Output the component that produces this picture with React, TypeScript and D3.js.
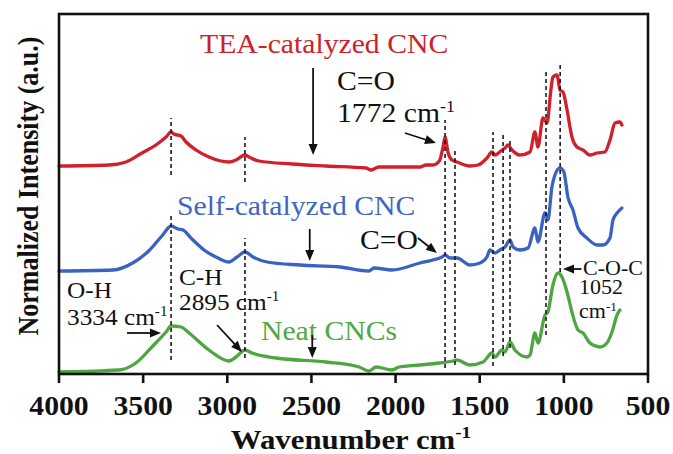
import * as d3 from "d3";

const width = 673;
const height = 454;
const marginLeft = 59;
const marginRight = 25;
const marginTop = 14;
const marginBottom = 80;

const xTicks = [4000, 3500, 3000, 2500, 2000, 1500, 1000, 500];

// TEA-catalyzed CNC (red)
const teaWn = [4000, 3703, 3602, 3507, 3424, 3364, 3334, 3317, 3275, 3245, 3186, 3109, 2990, 2948, 2895, 2871, 2812, 2616, 2413, 2176, 2146, 2099, 1855, 1819, 1778, 1740, 1718, 1706, 1689, 1665, 1635, 1558, 1510, 1457, 1427, 1409, 1368, 1350, 1332, 1308, 1261, 1201, 1172, 1154, 1124, 1100, 1077, 1065, 1041, 1023, 1005, 981, 952, 922, 886, 845, 803, 756, 726, 696, 667, 655];
const teaInt = [2.08, 2.09, 2.12, 2.21, 2.29, 2.37, 2.42, 2.4, 2.38, 2.32, 2.24, 2.17, 2.12, 2.14, 2.19, 2.17, 2.13, 2.1, 2.08, 2.06, 2.04, 2.07, 2.07, 2.09, 2.09, 2.13, 2.27, 2.37, 2.22, 2.14, 2.12, 2.08, 2.09, 2.16, 2.22, 2.19, 2.24, 2.26, 2.29, 2.24, 2.19, 2.22, 2.42, 2.27, 2.56, 2.51, 2.84, 2.97, 2.99, 2.84, 2.82, 2.64, 2.37, 2.27, 2.24, 2.19, 2.21, 2.22, 2.34, 2.51, 2.52, 2.49];

// Self-catalyzed CNC (blue)
const selfWn = [4000, 3680, 3562, 3461, 3384, 3334, 3293, 3263, 3216, 3138, 3055, 2990, 2942, 2895, 2847, 2764, 2568, 2330, 2158, 2128, 2021, 1855, 1778, 1724, 1706, 1677, 1635, 1558, 1498, 1457, 1439, 1409, 1380, 1350, 1320, 1302, 1261, 1213, 1172, 1154, 1112, 1095, 1071, 1053, 1023, 1000, 976, 946, 916, 863, 803, 767, 726, 708, 679, 655];
const selfInt = [1.03, 1.04, 1.11, 1.24, 1.39, 1.48, 1.45, 1.44, 1.36, 1.24, 1.16, 1.12, 1.17, 1.22, 1.17, 1.12, 1.09, 1.07, 1.03, 1.06, 1.04, 1.11, 1.14, 1.17, 1.19, 1.16, 1.16, 1.09, 1.11, 1.17, 1.24, 1.21, 1.24, 1.27, 1.34, 1.27, 1.24, 1.26, 1.46, 1.32, 1.61, 1.54, 1.87, 1.99, 2.06, 2.02, 1.77, 1.64, 1.46, 1.36, 1.29, 1.29, 1.36, 1.54, 1.62, 1.66];

// Neat CNCs (green)
const neatWn = [4000, 3644, 3543, 3448, 3364, 3334, 3275, 3227, 3109, 2990, 2948, 2895, 2853, 2710, 2413, 2217, 2158, 2116, 2021, 1980, 1855, 1740, 1659, 1635, 1558, 1480, 1427, 1409, 1368, 1350, 1320, 1291, 1219, 1201, 1172, 1154, 1112, 1095, 1065, 1035, 1011, 981, 952, 916, 886, 845, 785, 744, 714, 684, 667];
const neatInt = [0.02, 0.04, 0.11, 0.27, 0.42, 0.48, 0.47, 0.41, 0.24, 0.13, 0.17, 0.24, 0.21, 0.16, 0.12, 0.07, 0.03, 0.07, 0.04, 0.07, 0.09, 0.11, 0.13, 0.14, 0.09, 0.12, 0.21, 0.17, 0.24, 0.22, 0.32, 0.24, 0.17, 0.19, 0.41, 0.31, 0.59, 0.62, 0.89, 1.01, 0.97, 0.82, 0.62, 0.44, 0.41, 0.31, 0.27, 0.31, 0.42, 0.59, 0.64];

// dashed reference lines: wavenumber, lower and upper intensity
const dashWn = [3334, 3334, 2895, 2895, 1706, 1647, 1421, 1361, 1320, 1106, 1022];
const dashLow = [1.99, 0.14, 1.92, 0.16, 0.06, 0.09, 0.08, 0.18, 0.26, 0.39, 1.02];
const dashHigh = [2.56, 1.61, 2.37, 1.36, 2.54, 2.24, 2.42, 2.42, 2.36, 3.02, 3.11];

const series = [
  { name: "TEA-catalyzed CNC", wn: teaWn, val: teaInt, color: "#d0202a" },
  { name: "Self-catalyzed CNC", wn: selfWn, val: selfInt, color: "#3a62c2" },
  { name: "Neat CNCs", wn: neatWn, val: neatInt, color: "#4ea640" },
];

const serif = "'Liberation Serif', 'Times New Roman', serif";
const stretch = 1.1;

// annotation texts, positioned in data units
const notes = [
  { text: "TEA-catalyzed CNC", wn: 3162, v: 3.21, size: 27, color: "#cc2229" },
  { text: "C=O", wn: 2348, v: 2.84, size: 27, color: "#111" },
  { text: "1772 cm", sup: "-1", wn: 2348, v: 2.52, size: 27, color: "#111" },
  { text: "Self-catalyzed CNC", wn: 3299, v: 1.59, size: 27, color: "#3f66c4" },
  { text: "C=O", wn: 2211, v: 1.25, size: 27, color: "#111" },
  { text: "O-H", wn: 3952, v: 0.76, size: 23, color: "#111" },
  { text: "3334 cm", sup: "-1", wn: 3952, v: 0.49, size: 23, color: "#111" },
  { text: "C-H", wn: 3287, v: 0.89, size: 23, color: "#111" },
  { text: "2895 cm", sup: "-1", wn: 3287, v: 0.64, size: 23, color: "#111" },
  { text: "Neat CNCs", wn: 2800, v: 0.34, size: 27, color: "#4fa843" },
  { text: "C-O-C", wn: 886, v: 0.99, size: 20, color: "#111" },
  { text: "1052", wn: 910, v: 0.8, size: 20, color: "#111" },
  { text: "cm", sup: "-1", wn: 910, v: 0.56, size: 20, color: "#111" },
];

// arrows: from (wn1, v1) to tip (wn2, v2)
const arrows = [
  { wn1: 2490, v1: 3.06, wn2: 2490, v2: 2.19 },
  { wn1: 1944, v1: 2.41, wn2: 1760, v2: 2.31 },
  { wn1: 2510, v1: 1.45, wn2: 2510, v2: 1.13 },
  { wn1: 1867, v1: 1.36, wn2: 1754, v2: 1.21 },
  { wn1: 3596, v1: 0.41, wn2: 3394, v2: 0.41 },
  { wn1: 3061, v1: 0.49, wn2: 2913, v2: 0.22 },
  { wn1: 2495, v1: 0.39, wn2: 2495, v2: 0.16 },
  { wn1: 895, v1: 1.05, wn2: 1005, v2: 1.05 },
];

function Label({ x, y, size, color, weight = "normal", anchor = "start", rotate = 0, children }: any) {
  return (
    <text
      transform={`translate(${x},${y}) scale(${stretch},1) rotate(${rotate})`}
      fontSize={size}
      fill={color}
      fontWeight={weight}
      textAnchor={anchor}
      fontFamily={serif}
    >
      {children}
    </text>
  );
}

function Arrow({ x1, y1, x2, y2 }: any) {
  const len = Math.hypot(x2 - x1, y2 - y1);
  const ux = (x2 - x1) / len;
  const uy = (y2 - y1) / len;
  const hl = 11;
  const hw = 4.5;
  const bx = x2 - ux * hl;
  const by = y2 - uy * hl;
  const pts = [
    [x2, y2],
    [bx - uy * hw, by + ux * hw],
    [bx + uy * hw, by - ux * hw],
  ];
  return (
    <g>
      <line x1={x1} y1={y1} x2={bx + ux * 2} y2={by + uy * 2} stroke="#111" strokeWidth={1.8} />
      <polygon points={pts.map((p) => p.join(",")).join(" ")} fill="#111" />
    </g>
  );
}

export default function App() {
  const x = d3.scaleLinear().domain([4000, 500]).range([marginLeft, width - marginRight]);
  const y = d3.scaleLinear().domain([0, 3.6]).range([height - marginBottom, marginTop]);

  // pixel x grows as wavenumber falls, so monotoneX is safe here
  const line = d3
    .line<[number, number]>()
    .x((d) => x(d[0]))
    .y((d) => y(d[1]))
    .curve(d3.curveMonotoneX);

  const bottom = height - marginBottom;

  return (
    <div style={{ position: "absolute", left: 0, top: 0 }}>
      <svg width={width} height={height} style={{ display: "block", background: "#fff" }}>
        {/* spectra */}
        {series.map((s) => (
          <path
            key={s.name}
            d={line(s.wn.map((w, i) => [w, s.val[i]] as [number, number])) || ""}
            fill="none"
            stroke={s.color}
            strokeWidth={3.3}
            strokeLinejoin="round"
            strokeLinecap="round"
          />
        ))}

        {/* dashed guides */}
        {dashWn.map((w, i) => (
          <line
            key={i}
            x1={x(w)}
            x2={x(w)}
            y1={y(dashLow[i])}
            y2={y(dashHigh[i])}
            stroke="#1a1a1a"
            strokeWidth={1.6}
            strokeDasharray="4 3"
          />
        ))}

        {/* frame */}
        <rect
          x={marginLeft}
          y={marginTop}
          width={width - marginLeft - marginRight}
          height={bottom - marginTop}
          fill="none"
          stroke="#111"
          strokeWidth={2.6}
        />

        {/* x axis */}
        {xTicks.map((t) => (
          <g key={t}>
            <line x1={x(t)} x2={x(t)} y1={bottom} y2={bottom + 9} stroke="#111" strokeWidth={2.6} />
            <Label x={x(t)} y={415} size={27} color="#111" weight="bold" anchor="middle">
              {t}
            </Label>
          </g>
        ))}
        <Label x={351} y={449} size={28} color="#111" weight="bold" anchor="middle">
          Wavenumber cm
          <tspan fontSize="0.62em" dy="-0.62em">-1</tspan>
        </Label>
        <Label x={38} y={186} size={26} color="#111" weight="bold" anchor="middle" rotate={-90}>
          Normalized Intensity (a.u.)
        </Label>

        {/* annotations */}
        {notes.map((n, i) => (
          <Label key={i} x={x(n.wn)} y={y(n.v)} size={n.size} color={n.color}>
            {n.text}
            {n.sup && (
              <tspan fontSize="0.6em" dy="-0.62em">
                {n.sup}
              </tspan>
            )}
          </Label>
        ))}
        {arrows.map((a, i) => (
          <Arrow key={i} x1={x(a.wn1)} y1={y(a.v1)} x2={x(a.wn2)} y2={y(a.v2)} />
        ))}
      </svg>
    </div>
  );
}
